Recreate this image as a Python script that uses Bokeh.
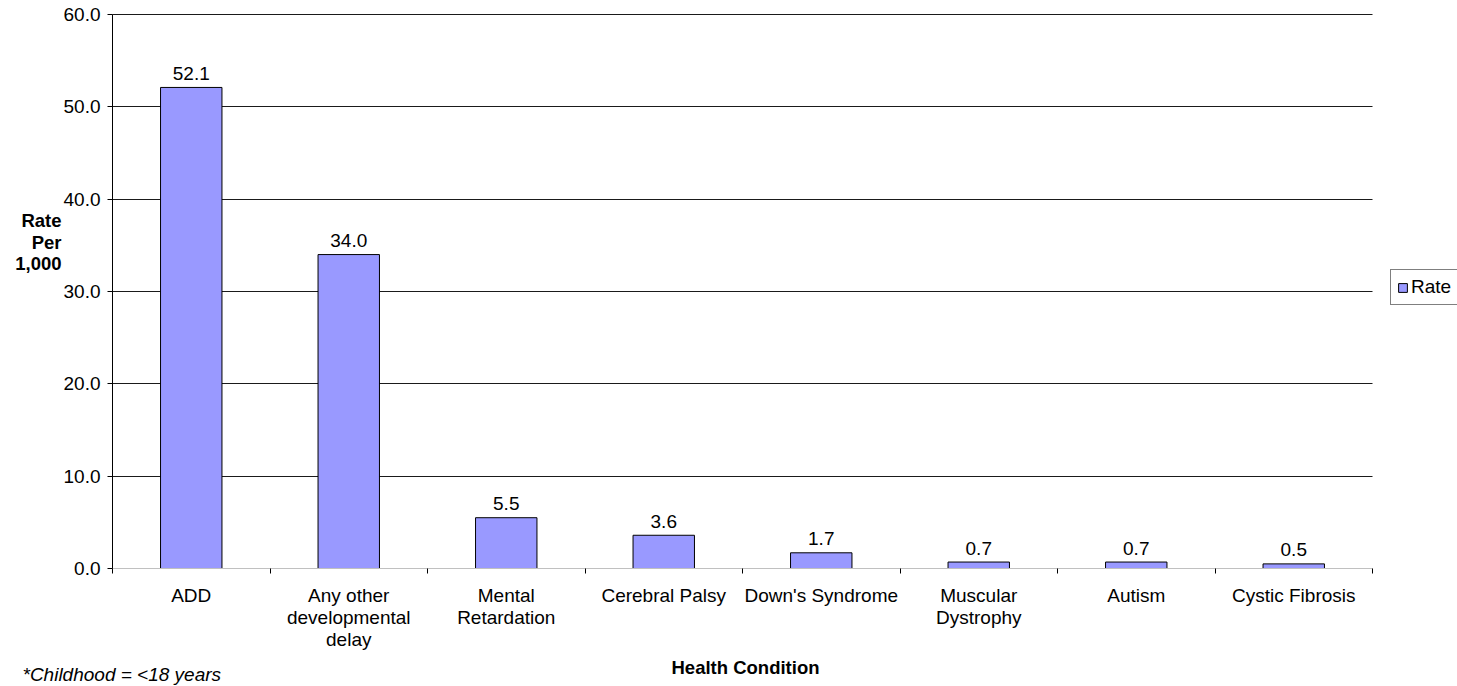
from bokeh.plotting import figure
from bokeh.models import (Range1d, FixedTicker, NumeralTickFormatter, Label,
                          Legend, LegendItem, ColumnDataSource)
from bokeh.core.properties import value
from bokeh.embed import file_html
from bokeh.resources import INLINE

# Health conditions and their childhood prevalence (rate per 1,000)
conditions = ["ADD", "Any other\ndevelopmental\ndelay", "Mental\nRetardation",
              "Cerebral Palsy", "Down's Syndrome", "Muscular\nDystrophy",
              "Autism", "Cystic Fibrosis"]
rates = [52.1, 34.0, 5.5, 3.6, 1.7, 0.7, 0.7, 0.5]
y_ticks = [0, 10, 20, 30, 40, 50, 60]

FONT = "Liberation Sans"
W, H = 1457, 686
n = len(conditions)
centers = [i + 0.5 for i in range(n)]
bounds = [float(i) for i in range(n + 1)]

# plotting area geometry (pixels) inside the canvas
left_px, right_px, top_px, bottom_px = 112, 1372, 14, 568
x_scale = (right_px - left_px) / n          # px per category
y_scale = (bottom_px - top_px) / 60.0       # px per unit
TEXT_SHIFT = 8                              # baseline correction for svg text

x_range = Range1d(-left_px / x_scale, (W - left_px) / x_scale)
y_range = Range1d(-(H - bottom_px) / y_scale, 60 + top_px / y_scale)

p = figure(width=W, height=H, output_backend="svg", toolbar_location=None,
           x_range=x_range, y_range=y_range,
           min_border_left=0, min_border_right=0,
           min_border_top=0, min_border_bottom=0)
p.outline_line_color = None
p.background_fill_color = "white"
p.border_fill_color = "white"

src = ColumnDataSource(dict(x=centers, top=rates,
                            lbl=[f"{r:.1f}" for r in rates]))

bars = p.vbar(x="x", top="top", width=0.39, source=src,
              fill_color="#9999FF", line_color="#000000", line_width=1)

p.text(x="x", y="top", text="lbl", source=src, y_offset=-6 - TEXT_SHIFT,
       text_align="center", text_baseline="alphabetic",
       text_font=value(FONT), text_font_size="19px", text_color="#000000")

# x axis: labels at category centres, ticks at category boundaries
xa = p.xaxis[0]
xa.fixed_location = 0
xa.bounds = (0, n)
xa.ticker = FixedTicker(ticks=centers, minor_ticks=bounds)
xa.major_label_overrides = {c: name for c, name in zip(centers, conditions)}
xa.axis_line_color = "#c0c0c0"
xa.major_tick_line_color = None
xa.major_tick_out = 0
xa.major_tick_in = 0
xa.minor_tick_line_color = "#000000"
xa.minor_tick_out = 5
xa.minor_tick_in = 0
xa.major_label_standoff = 11
xa.major_label_text_font = FONT
xa.major_label_text_font_size = "19px"
xa.major_label_text_color = "#000000"
xa.major_label_text_line_height = 1.05

# y axis
ya = p.yaxis[0]
ya.fixed_location = 0
ya.bounds = (0, 60)
ya.ticker = FixedTicker(ticks=y_ticks, minor_ticks=[])
ya.formatter = NumeralTickFormatter(format="0.0")
ya.axis_line_color = "#000000"
ya.major_tick_line_color = "#000000"
ya.major_tick_out = 5
ya.major_tick_in = 0
ya.major_label_standoff = 7
ya.major_label_text_font = FONT
ya.major_label_text_font_size = "19px"
ya.major_label_text_color = "#000000"

p.xgrid.grid_line_color = None
p.ygrid.ticker = FixedTicker(ticks=y_ticks[1:], minor_ticks=[])
p.ygrid.cross_bounds = (0, n)
p.ygrid.grid_line_color = "#1a1a1a"
p.ygrid.grid_line_width = 1


def px_x(px):
    return (px - left_px) / x_scale


def px_y(py):
    return (bottom_px - py + TEXT_SHIFT) / y_scale


# y axis title, three right-aligned bold lines
for txt, base in [("Rate", 228), ("Per", 250), ("1,000", 271)]:
    p.add_layout(Label(x=px_x(61), y=px_y(base), text=txt, text_align="right",
                       text_baseline="alphabetic", text_font=FONT,
                       text_font_size="18.5px", text_font_style="bold",
                       text_color="#000000"))

# x axis title
p.add_layout(Label(x=px_x(745), y=px_y(675), text="Health Condition",
                   text_align="center", text_baseline="alphabetic",
                   text_font=FONT, text_font_size="18.5px",
                   text_font_style="bold", text_color="#000000"))

# footnote
p.add_layout(Label(x=px_x(22), y=px_y(681.5), text="*Childhood = <18 years",
                   text_align="left", text_baseline="alphabetic",
                   text_font=FONT, text_font_size="19px",
                   text_font_style="italic", text_color="#000000"))

# legend box runs past the right edge of the canvas
legend = Legend(items=[LegendItem(label="Rate", renderers=[bars])],
                location=(1390, H - 305), orientation="vertical",
                border_line_color="#000000", border_line_width=1,
                background_fill_color="white", background_fill_alpha=1,
                padding=6, margin=0, spacing=0,
                glyph_width=11, glyph_height=11, label_standoff=3,
                label_width=48,
                label_text_font=FONT, label_text_font_size="19px",
                label_text_color="#000000", label_height=11)
p.add_layout(legend, "center")

open("out.html", "w").write(file_html(p, INLINE))
